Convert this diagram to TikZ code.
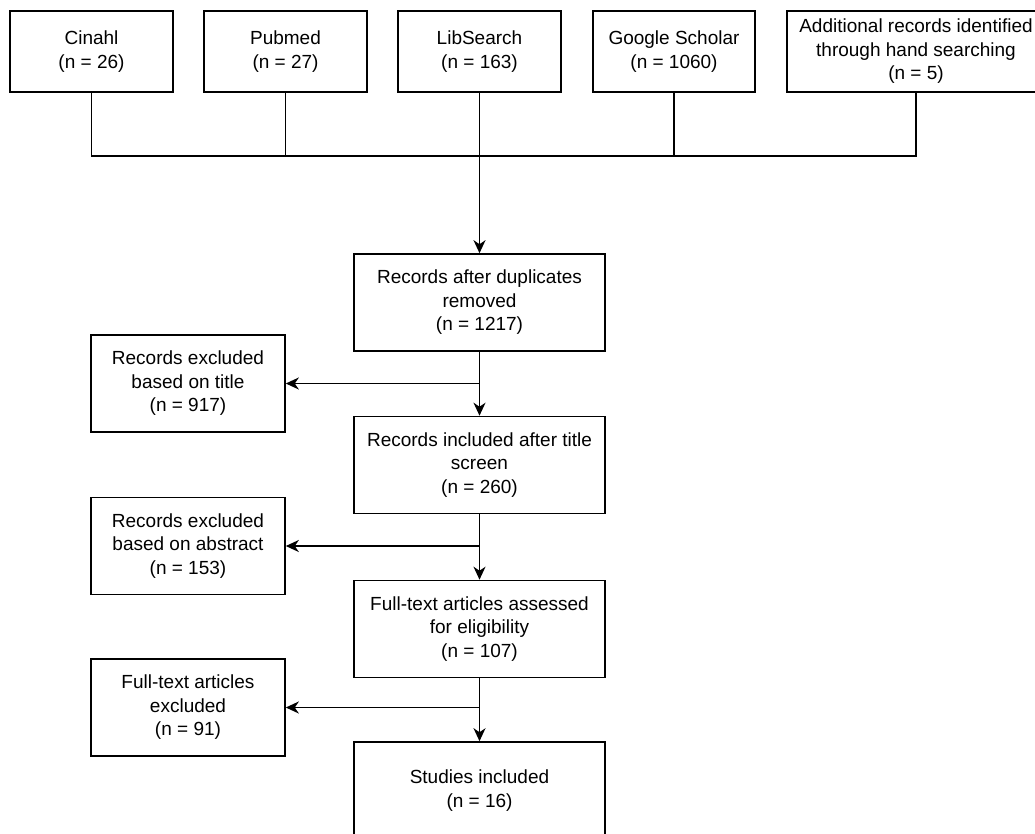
\documentclass[tikz,border=0pt]{standalone}
\usepackage{fontspec}
\setmainfont{Liberation Sans}
\usetikzlibrary{arrows.meta}
\begin{document}
\begin{tikzpicture}[x=1pt,y=-1pt,
  box/.style={draw, line width=1.6pt, align=center, inner sep=0pt,
    font=\fontsize{19}{23.5}\selectfont},
  topbox/.style={box, minimum height=81pt},
  mainbox/.style={box, minimum width=251pt, minimum height=97pt},
  sidebox/.style={box, minimum width=194pt, minimum height=97pt},
  conn/.style={line width=1.6pt},
  arr/.style={conn, -{Stealth[length=13pt,width=12pt,inset=4pt]}}]
\useasboundingbox (0,0) rectangle (1035,833);
\clip (0,0) rectangle (1035,833);
\node[topbox, minimum width=163pt] (cin) at (91.5,51.5) {Cinahl\\(n = 26)};
\node[topbox, minimum width=163pt] (pub) at (285.5,51.5) {Pubmed\\(n = 27)};
\node[topbox, minimum width=163pt] (lib) at (479.5,51.5) {LibSearch\\(n = 163)};
\node[topbox, minimum width=162pt] (goo) at (674,51.5) {Google Scholar\\(n = 1060)};
\node[topbox, minimum width=258pt] (add) at (916,51.5) {Additional records identified\\through hand searching\\(n = 5)};
\node[mainbox] (dup) at (479.5,302.5) {Records after duplicates\\removed\\(n = 1217)};
\node[mainbox] (tit) at (479.5,465) {Records included after title\\screen\\(n = 260)};
\node[mainbox] (ful) at (479.5,629) {Full-text articles assessed\\for eligibility\\(n = 107)};
\node[mainbox] (stu) at (479.5,790.5) {Studies included\\(n = 16)};
\node[sidebox] (ext) at (188,383.5) {Records excluded\\based on title\\(n = 917)};
\node[sidebox] (exa) at (188,546) {Records excluded\\based on abstract\\(n = 153)};
\node[sidebox] (exf) at (188,707.5) {Full-text articles\\excluded\\(n = 91)};
\coordinate (bus) at (479.5,156);
\draw[conn] (cin.south) |- (bus);
\draw[conn] (pub.south) |- (bus);
\draw[conn] (goo.south) |- (bus);
\draw[conn] (add.south) |- (bus);
\draw[conn] (lib.south) -- (bus);
\draw[arr] (bus) -- (dup.north);
\draw[arr] (dup.south) -- (tit.north);
\draw[arr] (tit.south) -- (ful.north);
\draw[arr] (ful.south) -- (stu.north);
\draw[arr] (ext.east -| dup.south) -- (ext.east);
\draw[arr] (exa.east -| tit.south) -- (exa.east);
\draw[arr] (exf.east -| ful.south) -- (exf.east);
\end{tikzpicture}
\end{document}
